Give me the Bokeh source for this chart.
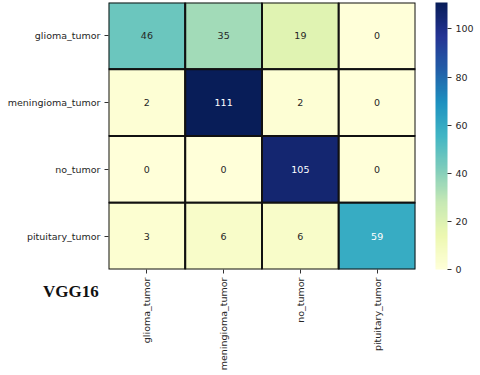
import numpy as np
from bokeh.plotting import figure
from bokeh.layouts import column
from bokeh.models import (ColumnDataSource, LinearColorMapper, ColorBar, FixedTicker,
                          FactorRange, Div)
from bokeh.embed import file_html
from bokeh.resources import INLINE

classes = ["glioma_tumor", "meningioma_tumor", "no_tumor", "pituitary_tumor"]
row_glioma = [46, 35, 19, 0]
row_meningioma = [2, 111, 2, 0]
row_no = [0, 0, 105, 0]
row_pituitary = [3, 6, 6, 59]
matrix = [row_glioma, row_meningioma, row_no, row_pituitary]
cbar_ticks = [0, 20, 40, 60, 80, 100]
title_text = "VGG16"

# YlGnBu anchors -> 256 colour palette
anchors = ["#ffffd9", "#edf8b1", "#c7e9b4", "#7fcdbb", "#41b6c4",
           "#1d91c0", "#225ea8", "#253494", "#081d58"]
rgb = np.array([[int(h[i:i + 2], 16) for i in (1, 3, 5)] for h in anchors], float)
pos = np.linspace(0, 1, len(anchors))
t = np.linspace(0, 1, 256)
pal = ["#%02x%02x%02x" % tuple(int(round(np.interp(v, pos, rgb[:, c]))) for c in range(3))
       for v in t]

vmax = max(max(r) for r in matrix)
mapper = LinearColorMapper(palette=pal, low=0, high=vmax)

xs, ys, vals, tcol = [], [], [], []
for i, tr in enumerate(classes):
    for j, pr in enumerate(classes):
        v = matrix[i][j]
        xs.append(pr)
        ys.append(tr)
        vals.append(v)
        tcol.append("#ffffff" if v > 55 else "#262626")
src = ColumnDataSource(dict(x=xs, y=ys, v=vals, s=[str(v) for v in vals], tc=tcol))

p = figure(x_range=FactorRange(factors=classes),
           y_range=FactorRange(factors=list(reversed(classes))),
           width=480, height=375,
           min_border_left=108, min_border_right=65, min_border_top=2, min_border_bottom=106,
           output_backend="svg", toolbar_location=None, tools="")
p.outline_line_color = None
p.grid.visible = False
p.background_fill_color = "white"

p.rect(x="x", y="y", width=1, height=1, source=src,
       fill_color={"field": "v", "transform": mapper},
       line_color="#111111", line_width=2)
p.text(x="x", y="y", text="s", source=src, text_color="tc",
       text_align="center", text_baseline="middle",
       text_font={"value": "DejaVu Sans"}, text_font_size={"value": "9.5px"})

for ax in (p.xaxis, p.yaxis):
    ax.axis_line_color = None
    ax.major_tick_in = 0
    ax.major_tick_out = 4
    ax.major_tick_line_color = "#333333"
    ax.minor_tick_line_color = None
    ax.major_label_text_font = "DejaVu Sans"
    ax.major_label_text_font_size = "9.5px"
    ax.major_label_text_color = "#262626"
    ax.major_label_standoff = 4
p.xaxis.major_label_orientation = np.pi / 2

cb = ColorBar(color_mapper=mapper, ticker=FixedTicker(ticks=cbar_ticks),
              width=12, height=267, margin=0, padding=0, location=(20, 0),
              major_tick_in=0, major_tick_out=4, major_tick_line_color="#333333",
              major_label_text_font="DejaVu Sans", major_label_text_font_size="9.5px",
              major_label_text_color="#262626", bar_line_color=None,
              border_line_color=None, background_fill_color=None, label_standoff=4)
p.add_layout(cb, "right")

tag = Div(text=title_text, margin=(-93, 0, 0, 43),
          styles={"font-family": "Liberation Serif", "font-weight": "bold",
                  "font-size": "17px", "color": "#111111", "line-height": "20px"})

layout = column(p, tag, spacing=0)
open("out.html", "w").write(file_html(layout, INLINE))
